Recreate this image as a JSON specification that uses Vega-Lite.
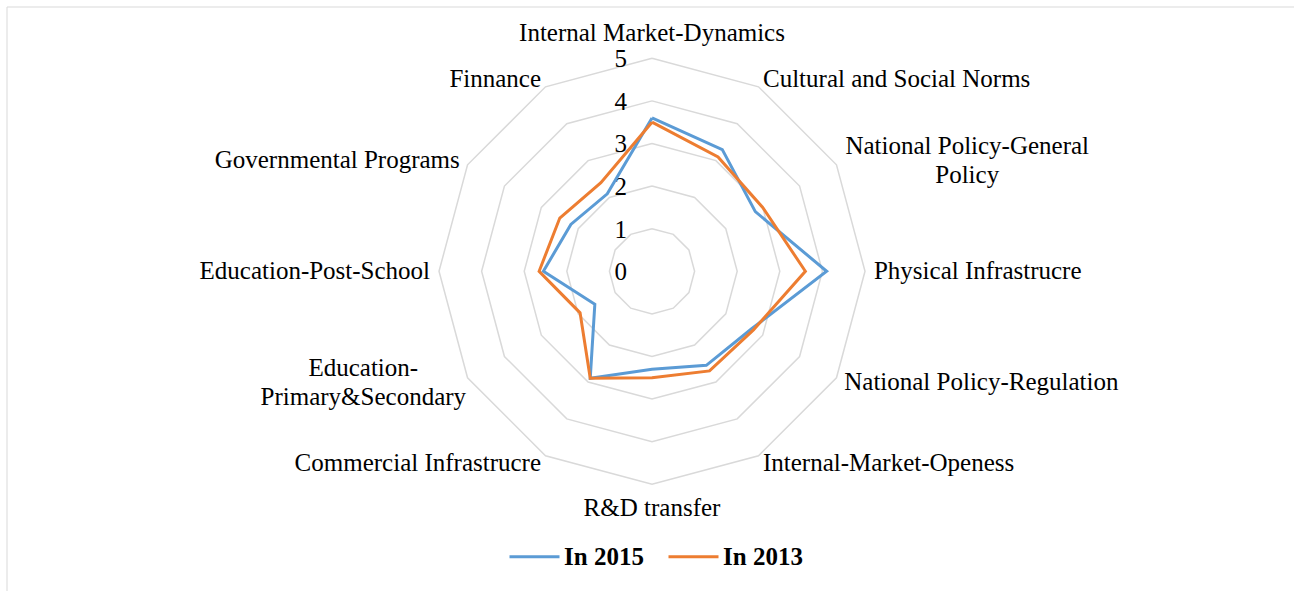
{
  "$schema": "https://vega.github.io/schema/vega-lite/v6.json",
  "width": 1287,
  "height": 584,
  "autosize": {"type": "none"},
  "padding": {"left": 7, "top": 7, "right": 0, "bottom": 0},
  "background": "white",
  "config": {
    "view": {"stroke": null},
    "font": "Liberation Serif"
  },
  "datasets": {
    "frame": [{"edge": "top"}],
    "grid": [
      {"level": 1, "idx": [0,1,2,3,4,5,6,7,8,9,10,11,12]},
      {"level": 2, "idx": [0,1,2,3,4,5,6,7,8,9,10,11,12]},
      {"level": 3, "idx": [0,1,2,3,4,5,6,7,8,9,10,11,12]},
      {"level": 4, "idx": [0,1,2,3,4,5,6,7,8,9,10,11,12]},
      {"level": 5, "idx": [0,1,2,3,4,5,6,7,8,9,10,11,12]}
    ],
    "ticks": [
      {"level": 0}, {"level": 1}, {"level": 2}, {"level": 3}, {"level": 4}, {"level": 5}
    ],
    "scores": [
      {"axis": "Internal Market-Dynamics", "idx": 0, "In 2015": 3.6, "In 2013": 3.5},
      {"axis": "Cultural and Social Norms", "idx": 1, "In 2015": 3.3, "In 2013": 3.1},
      {"axis": "National Policy-General Policy", "idx": 2, "In 2015": 2.8, "In 2013": 3.0},
      {"axis": "Physical Infrastrucre", "idx": 3, "In 2015": 4.1, "In 2013": 3.6},
      {"axis": "National Policy-Regulation", "idx": 4, "In 2015": 2.7, "In 2013": 2.75},
      {"axis": "Internal-Market-Openess", "idx": 5, "In 2015": 2.55, "In 2013": 2.7},
      {"axis": "R&D transfer", "idx": 6, "In 2015": 2.3, "In 2013": 2.5},
      {"axis": "Commercial Infrastrucre", "idx": 7, "In 2015": 2.9, "In 2013": 2.9},
      {"axis": "Education-Primary&Secondary", "idx": 8, "In 2015": 1.55, "In 2013": 1.95},
      {"axis": "Education-Post-School", "idx": 9, "In 2015": 2.55, "In 2013": 2.65},
      {"axis": "Governmental Programs", "idx": 10, "In 2015": 2.2, "In 2013": 2.5},
      {"axis": "Finnance", "idx": 11, "In 2015": 2.1, "In 2013": 2.4},
      {"axis": "Internal Market-Dynamics", "idx": 12, "In 2015": 3.6, "In 2013": 3.5}
    ],
    "labels": [
      {"label": "Internal Market-Dynamics", "idx": 0},
      {"label": "Cultural and Social Norms", "idx": 1},
      {"label": "National Policy-General\nPolicy", "idx": 2},
      {"label": "Physical Infrastrucre", "idx": 3},
      {"label": "National Policy-Regulation", "idx": 4},
      {"label": "Internal-Market-Openess", "idx": 5},
      {"label": "R&D transfer", "idx": 6},
      {"label": "Commercial Infrastrucre", "idx": 7},
      {"label": "Education-\nPrimary&Secondary", "idx": 8},
      {"label": "Education-Post-School", "idx": 9},
      {"label": "Governmental Programs", "idx": 10},
      {"label": "Finnance", "idx": 11}
    ]
  },
  "layer": [
    {
      "data": {"name": "frame"},
      "mark": {"type": "rule", "stroke": "#D9D9D9", "strokeWidth": 1},
      "encoding": {
        "y": {"datum": 6.204, "type": "quantitative", "scale": {"domain": [-7.505, 6.204], "nice": false, "zero": false}, "axis": null}
      }
    },
    {
      "data": {"name": "frame"},
      "mark": {"type": "rule", "stroke": "#D9D9D9", "strokeWidth": 1},
      "encoding": {
        "x": {"datum": -15.141, "type": "quantitative", "scale": {"domain": [-15.141, 15.07], "nice": false, "zero": false}, "axis": null}
      }
    },
    {
      "data": {"name": "grid"},
      "transform": [
        {"flatten": ["idx"]},
        {"calculate": "datum.level*sin(datum.idx*PI/6)", "as": "x"},
        {"calculate": "datum.level*cos(datum.idx*PI/6)", "as": "y"}
      ],
      "mark": {"type": "line", "stroke": "#D9D9D9", "strokeWidth": 1.5},
      "encoding": {
        "x": {"field": "x", "type": "quantitative", "scale": {"domain": [-15.141, 15.07], "nice": false, "zero": false}, "axis": null},
        "y": {"field": "y", "type": "quantitative", "scale": {"domain": [-7.505, 6.204], "nice": false, "zero": false}, "axis": null},
        "detail": {"field": "level", "type": "nominal"},
        "order": {"field": "idx", "type": "quantitative"}
      }
    },
    {
      "data": {"name": "ticks"},
      "mark": {"type": "text", "align": "right", "baseline": "middle", "dx": -25, "dy": 1, "fontSize": 25, "font": "Liberation Serif", "color": "#000"},
      "encoding": {
        "x": {"datum": 0, "type": "quantitative", "scale": {"domain": [-15.141, 15.07], "nice": false, "zero": false}, "axis": null},
        "y": {"field": "level", "type": "quantitative", "scale": {"domain": [-7.505, 6.204], "nice": false, "zero": false}, "axis": null},
        "text": {"field": "level", "type": "quantitative"}
      }
    },
    {
      "data": {"name": "scores"},
      "transform": [
        {"fold": ["In 2015", "In 2013"], "as": ["year", "value"]},
        {"filter": "datum.year === 'In 2015'"},
        {"calculate": "datum.value*sin(datum.idx*PI/6)", "as": "x"},
        {"calculate": "datum.value*cos(datum.idx*PI/6)", "as": "y"}
      ],
      "mark": {"type": "line", "strokeWidth": 3},
      "encoding": {
        "x": {"field": "x", "type": "quantitative", "scale": {"domain": [-15.141, 15.07], "nice": false, "zero": false}, "axis": null},
        "y": {"field": "y", "type": "quantitative", "scale": {"domain": [-7.505, 6.204], "nice": false, "zero": false}, "axis": null},
        "order": {"field": "idx", "type": "quantitative"},
        "color": {
          "field": "year", "type": "nominal",
          "scale": {"domain": ["In 2015", "In 2013"], "range": ["#5B9BD5", "#ED7D31"]},
          "legend": {
            "title": null, "orient": "none", "legendX": 501, "legendY": 523,
            "direction": "horizontal", "symbolType": "stroke", "symbolSize": 2500,
            "symbolStrokeWidth": 3, "labelFont": "Liberation Serif", "labelFontSize": 25,
            "labelFontWeight": "bold", "labelColor": "#000", "labelOffset": 3,
            "columnPadding": 18, "padding": 0
          }
        }
      }
    },
    {
      "data": {"name": "scores"},
      "transform": [
        {"fold": ["In 2015", "In 2013"], "as": ["year", "value"]},
        {"filter": "datum.year === 'In 2013'"},
        {"calculate": "datum.value*sin(datum.idx*PI/6)", "as": "x"},
        {"calculate": "datum.value*cos(datum.idx*PI/6)", "as": "y"}
      ],
      "mark": {"type": "line", "strokeWidth": 3},
      "encoding": {
        "x": {"field": "x", "type": "quantitative", "scale": {"domain": [-15.141, 15.07], "nice": false, "zero": false}, "axis": null},
        "y": {"field": "y", "type": "quantitative", "scale": {"domain": [-7.505, 6.204], "nice": false, "zero": false}, "axis": null},
        "order": {"field": "idx", "type": "quantitative"},
        "color": {"field": "year", "type": "nominal"}
      }
    },
    {
      "data": {"name": "labels"},
      "transform": [
        {"filter": "datum.idx === 0"},
        {"calculate": "5.21*sin(datum.idx*PI/6)", "as": "x"},
        {"calculate": "5.21*cos(datum.idx*PI/6)", "as": "y"}
      ],
      "mark": {"type": "text", "align": "center", "baseline": "alphabetic", "dy": -8, "fontSize": 25, "font": "Liberation Serif", "color": "#000"},
      "encoding": {
        "x": {"field": "x", "type": "quantitative", "scale": {"domain": [-15.141, 15.07], "nice": false, "zero": false}, "axis": null},
        "y": {"field": "y", "type": "quantitative", "scale": {"domain": [-7.505, 6.204], "nice": false, "zero": false}, "axis": null},
        "text": {"field": "label"}
      }
    },
    {
      "data": {"name": "labels"},
      "transform": [
        {"filter": "datum.idx === 6"},
        {"calculate": "5.21*sin(datum.idx*PI/6)", "as": "x"},
        {"calculate": "5.21*cos(datum.idx*PI/6)", "as": "y"}
      ],
      "mark": {"type": "text", "align": "center", "baseline": "alphabetic", "dy": 22.7, "fontSize": 25, "font": "Liberation Serif", "color": "#000"},
      "encoding": {
        "x": {"field": "x", "type": "quantitative", "scale": {"domain": [-15.141, 15.07], "nice": false, "zero": false}, "axis": null},
        "y": {"field": "y", "type": "quantitative", "scale": {"domain": [-7.505, 6.204], "nice": false, "zero": false}, "axis": null},
        "text": {"field": "label"}
      }
    },
    {
      "data": {"name": "labels"},
      "transform": [
        {"filter": {"field": "idx", "oneOf": [1, 3, 4, 5]}},
        {"calculate": "5.21*sin(datum.idx*PI/6)", "as": "x"},
        {"calculate": "5.21*cos(datum.idx*PI/6)", "as": "y"}
      ],
      "mark": {"type": "text", "align": "left", "baseline": "middle", "fontSize": 25, "font": "Liberation Serif", "color": "#000"},
      "encoding": {
        "x": {"field": "x", "type": "quantitative", "scale": {"domain": [-15.141, 15.07], "nice": false, "zero": false}, "axis": null},
        "y": {"field": "y", "type": "quantitative", "scale": {"domain": [-7.505, 6.204], "nice": false, "zero": false}, "axis": null},
        "text": {"field": "label"}
      }
    },
    {
      "data": {"name": "labels"},
      "transform": [
        {"filter": {"field": "idx", "oneOf": [7, 9, 10, 11]}},
        {"calculate": "5.21*sin(datum.idx*PI/6)", "as": "x"},
        {"calculate": "5.21*cos(datum.idx*PI/6)", "as": "y"}
      ],
      "mark": {"type": "text", "align": "right", "baseline": "middle", "fontSize": 25, "font": "Liberation Serif", "color": "#000"},
      "encoding": {
        "x": {"field": "x", "type": "quantitative", "scale": {"domain": [-15.141, 15.07], "nice": false, "zero": false}, "axis": null},
        "y": {"field": "y", "type": "quantitative", "scale": {"domain": [-7.505, 6.204], "nice": false, "zero": false}, "axis": null},
        "text": {"field": "label"}
      }
    },
    {
      "data": {"name": "labels"},
      "transform": [
        {"filter": "datum.idx === 2"},
        {"calculate": "5.21*sin(datum.idx*PI/6)", "as": "x"},
        {"calculate": "5.21*cos(datum.idx*PI/6)", "as": "y"}
      ],
      "mark": {"type": "text", "align": "center", "baseline": "middle", "dx": 123, "dy": -14.5, "lineBreak": "\n", "lineHeight": 29, "fontSize": 25, "font": "Liberation Serif", "color": "#000"},
      "encoding": {
        "x": {"field": "x", "type": "quantitative", "scale": {"domain": [-15.141, 15.07], "nice": false, "zero": false}, "axis": null},
        "y": {"field": "y", "type": "quantitative", "scale": {"domain": [-7.505, 6.204], "nice": false, "zero": false}, "axis": null},
        "text": {"field": "label"}
      }
    },
    {
      "data": {"name": "labels"},
      "transform": [
        {"filter": "datum.idx === 8"},
        {"calculate": "5.21*sin(datum.idx*PI/6)", "as": "x"},
        {"calculate": "5.21*cos(datum.idx*PI/6)", "as": "y"}
      ],
      "mark": {"type": "text", "align": "center", "baseline": "middle", "dx": -96.5, "dy": -14.5, "lineBreak": "\n", "lineHeight": 29, "fontSize": 25, "font": "Liberation Serif", "color": "#000"},
      "encoding": {
        "x": {"field": "x", "type": "quantitative", "scale": {"domain": [-15.141, 15.07], "nice": false, "zero": false}, "axis": null},
        "y": {"field": "y", "type": "quantitative", "scale": {"domain": [-7.505, 6.204], "nice": false, "zero": false}, "axis": null},
        "text": {"field": "label"}
      }
    }
  ]
}
